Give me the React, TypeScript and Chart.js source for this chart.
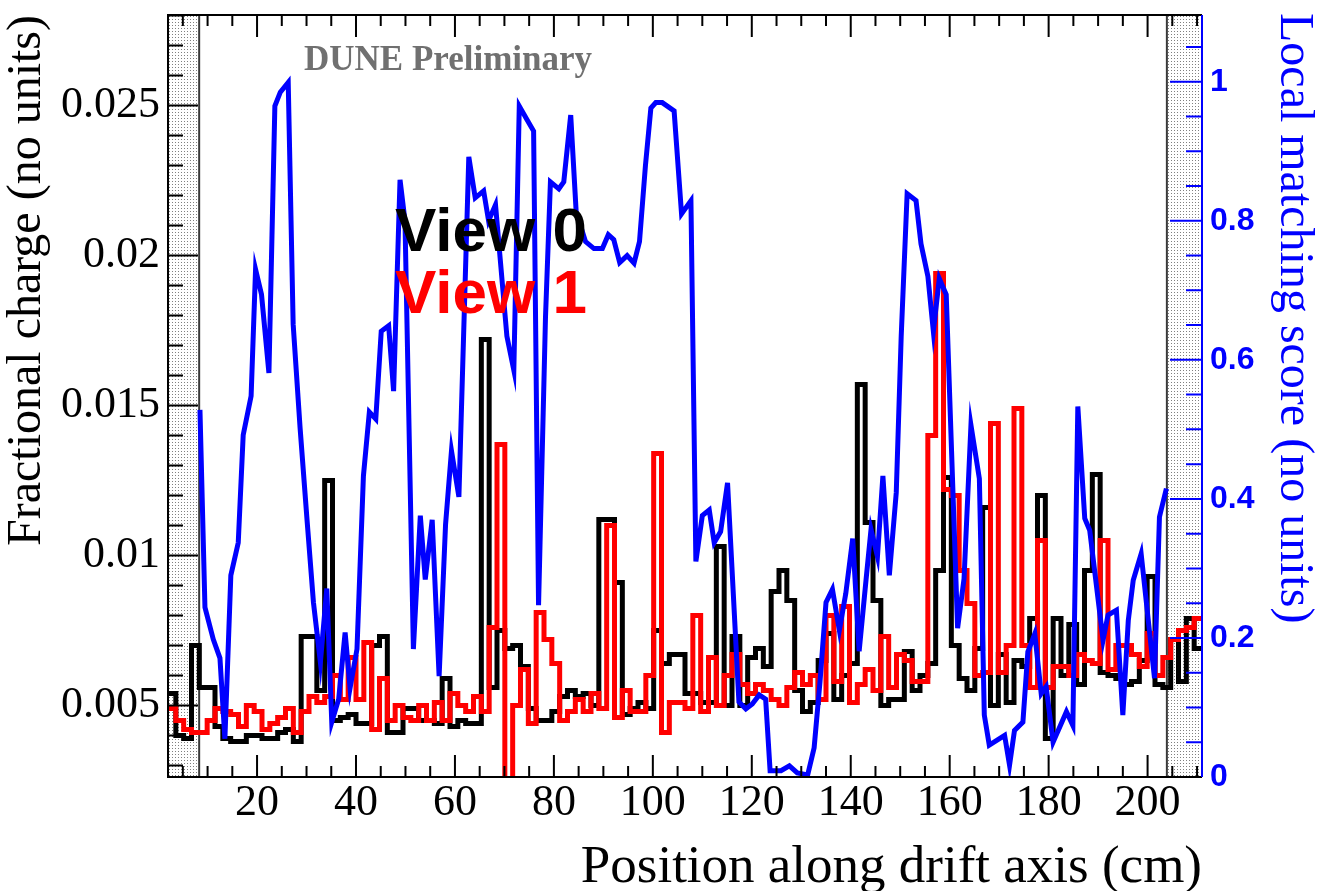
import React, { useEffect, useRef } from "react";
import { Chart, registerables } from "chart.js";

Chart.register(...registerables);

// ---- axis ranges (data units) ----
const X_MIN = 2;
const X_MAX = 211;
const CHARGE_MIN = 0.00262;
const CHARGE_MAX = 0.02802;
const SCORE_MIN = 0;
const SCORE_MAX = 1.096;

// histogram binning range
const HIST_LOW = 2;
const HIST_HIGH = 211;

// shaded (excluded) regions
const MASK_LEFT_END = 8.3;
const MASK_RIGHT_START = 203.9;

// ---- tick labels ----
const xTickValues = [20, 40, 60, 80, 100, 120, 140, 160, 180, 200];
const chargeTickValues = [0.005, 0.01, 0.015, 0.02, 0.025];
const chargeTickLabels = ["0.005", "0.01", "0.015", "0.02", "0.025"];
const scoreTickValues = [0, 0.2, 0.4, 0.6, 0.8, 1];
const scoreTickLabels = ["0", "0.2", "0.4", "0.6", "0.8", "1"];

// ---- View 0 fractional charge per bin ----
const view0Charge = [
  0.0054, 0.0040, 0.0039, 0.0070, 0.0056, 0.0056, 0.0043, 0.0039, 0.0038, 0.0038,
  0.0040, 0.0040, 0.0039, 0.0039, 0.0041, 0.0042, 0.0038, 0.0073, 0.0073, 0.0055,
  0.0125, 0.0045, 0.0046, 0.0047, 0.0044, 0.0044, 0.0070, 0.0073, 0.0041, 0.0041,
  0.0049, 0.0049, 0.0045, 0.0045, 0.0044, 0.0059, 0.0043, 0.0045, 0.0044, 0.0044,
  0.0172, 0.0056, 0.0075, 0.0069, 0.0070, 0.0063, 0.0049, 0.0045, 0.0045, 0.0048,
  0.0053, 0.0055, 0.0053, 0.0054, 0.0050, 0.0112, 0.0112, 0.0091, 0.0047, 0.0049,
  0.0051, 0.0049, 0.0075, 0.0064, 0.0067, 0.0067, 0.0054, 0.0054, 0.0051, 0.0051,
  0.0103, 0.0050, 0.0073, 0.0050, 0.0066, 0.0069, 0.0063, 0.0088, 0.0095, 0.0085,
  0.0055, 0.0048, 0.0051, 0.0065, 0.0074, 0.0052, 0.0060, 0.0064, 0.0157, 0.0111,
  0.0085, 0.0050, 0.0052, 0.0052, 0.0068, 0.0055, 0.0060, 0.0064, 0.0095, 0.0126,
  0.0070, 0.0059, 0.0055, 0.0069, 0.0116, 0.0050, 0.0067, 0.0051, 0.0065, 0.0063,
  0.0079, 0.0120, 0.0039, 0.0079, 0.0060, 0.0077, 0.0057, 0.0095, 0.0127, 0.0061,
  0.0060, 0.0059, 0.0057, 0.0058, 0.0065, 0.0093, 0.0057, 0.0056, 0.0072, 0.0058,
  0.0079, 0.0069,
];

// ---- View 1 fractional charge per bin ----
const view1Charge = [
  0.0049, 0.0045, 0.0042, 0.0041, 0.0041, 0.0045, 0.0049, 0.0048, 0.0047, 0.0043,
  0.0050, 0.0048, 0.0042, 0.0044, 0.0046, 0.0049, 0.0041, 0.0048, 0.0053, 0.0051,
  0.0053, 0.0060, 0.0052, 0.0066, 0.0052, 0.0071, 0.0042, 0.0059, 0.0045, 0.0050,
  0.0046, 0.0045, 0.0050, 0.0045, 0.0051, 0.0045, 0.0054, 0.0050, 0.0048, 0.0053,
  0.0048, 0.0076, 0.0137, 0.0, 0.0050, 0.0062, 0.0044, 0.0081, 0.0072, 0.0064,
  0.0045, 0.0048, 0.0052, 0.0048, 0.0054, 0.0049, 0.0110, 0.0046, 0.0055, 0.0048,
  0.0048, 0.0060, 0.0134, 0.0041, 0.0051, 0.0051, 0.0049, 0.0080, 0.0048, 0.0066,
  0.0050, 0.0060, 0.0067, 0.0057, 0.0054, 0.0057, 0.0055, 0.0052, 0.0050, 0.0056,
  0.0061, 0.0057, 0.0060, 0.0052, 0.0080, 0.0058, 0.0083, 0.0051, 0.0057, 0.0062,
  0.0055, 0.0073, 0.0056, 0.0067, 0.0065, 0.0058, 0.0058, 0.0140, 0.0194, 0.0122,
  0.0120, 0.0095, 0.0084, 0.0060, 0.0061, 0.0144, 0.0061, 0.0070, 0.0149, 0.0070,
  0.0056, 0.0105, 0.0056, 0.0063, 0.0063, 0.0060, 0.0067, 0.0065, 0.0064, 0.0105,
  0.0062, 0.0070, 0.0070, 0.0067, 0.0063, 0.0074, 0.0060, 0.0066, 0.0072, 0.0075,
  0.0076, 0.0079,
];

// ---- local matching score (position in cm, score) ----
const scorePositions = [
  8.46, 9.47, 11.15, 12.5, 13.5, 14.7, 16.2, 17.2, 18.8, 19.7,
  20.9, 22.4, 23.6, 24.7, 26.3, 27.3, 28.7, 30.1, 31.4, 32.8,
  34.1, 35.1, 36.5, 37.8, 38.8, 40.2, 41.5, 42.7, 44.0, 45.1,
  46.6, 47.6, 48.9, 49.9, 51.6, 53.0, 54.0, 55.4, 56.8, 58.1,
  59.3, 60.8, 62.8, 64.1, 65.8, 66.8, 68.2, 70.5, 71.9, 73.0,
  74.6, 75.9, 76.9, 78.3, 79.3, 81.0, 82.0, 83.4, 84.5, 86.4,
  88.1, 89.8, 91.0, 92.1, 93.3, 94.8, 96.2, 97.3, 98.5, 99.6,
  100.6, 101.9, 104.3, 105.8, 107.7, 108.7, 110.0, 111.4, 112.4, 113.7,
  115.1, 117.4, 118.8, 120.1, 121.5, 122.8, 123.7, 125.9, 127.6, 129.2,
  131.3, 132.6, 133.8, 135.0, 136.3, 137.7, 139.0, 140.4, 141.7, 143.1,
  144.1, 145.4, 146.5, 147.8, 149.2, 150.2, 151.4, 153.2, 154.2, 155.6,
  156.7, 157.9, 159.3, 161.6, 162.9, 164.3, 166.0, 167.0, 168.0, 171.1,
  172.1, 173.1, 174.8, 175.8, 177.2, 178.5, 179.5, 180.9, 183.6, 184.9,
  185.9, 187.3, 188.3, 191.0, 192.0, 193.7, 195.0, 196.1, 197.1, 198.7,
  201.4, 202.4, 203.8,
];
const scoreValues = [
  0.528, 0.244, 0.198, 0.171, 0.055, 0.290, 0.337, 0.492, 0.548, 0.730,
  0.694, 0.581, 0.965, 0.985, 0.999, 0.651, 0.502, 0.370, 0.251, 0.165,
  0.271, 0.079, 0.112, 0.208, 0.128, 0.184, 0.433, 0.525, 0.515, 0.641,
  0.649, 0.555, 0.859, 0.800, 0.184, 0.376, 0.284, 0.370, 0.145, 0.363,
  0.469, 0.403, 0.892, 0.833, 0.843, 0.800, 0.823, 0.634, 0.585, 0.965,
  0.945, 0.929, 0.247, 0.661, 0.856, 0.846, 0.856, 0.952, 0.813, 0.770,
  0.760, 0.760, 0.780, 0.773, 0.740, 0.750, 0.739, 0.770, 0.879, 0.962,
  0.970, 0.970, 0.958, 0.810, 0.829, 0.310, 0.376, 0.384, 0.337, 0.353,
  0.423, 0.108, 0.098, 0.105, 0.118, 0.112, 0.009, 0.009, 0.016, 0.006,
  0.003, 0.042, 0.138, 0.251, 0.270, 0.211, 0.264, 0.343, 0.181, 0.284,
  0.356, 0.317, 0.433, 0.290, 0.409, 0.634, 0.839, 0.829, 0.767, 0.720,
  0.641, 0.717, 0.694, 0.214, 0.285, 0.506, 0.429, 0.089, 0.046, 0.060,
  0.017, 0.067, 0.079, 0.180, 0.206, 0.120, 0.130, 0.050, 0.094, 0.074,
  0.533, 0.372, 0.355, 0.197, 0.233, 0.240, 0.089, 0.225, 0.283, 0.321,
  0.142, 0.374, 0.415,
];

function histogramPoints(values: number[]) {
  const n = values.length;
  const w = (HIST_HIGH - HIST_LOW) / n;
  const pts = values.map((v, i) => ({ x: HIST_LOW + i * w, y: v }));
  pts.push({ x: HIST_HIGH, y: values[n - 1] });
  return pts;
}

function labelFor(values: number[], labels: string[], v: number) {
  for (let i = 0; i < values.length; i++) {
    if (Math.abs(values[i] - v) < 1e-9) return labels[i];
  }
  return "";
}

function noPadding(s: any) {
  s.paddingTop = 0;
  s.paddingBottom = 0;
  s.paddingLeft = 0;
  s.paddingRight = 0;
}

const decorPlugin = {
  id: "rootDecor",
  beforeDatasetsDraw(chart: any) {
    const { ctx, chartArea: a, scales } = chart;
    const xs = scales.x;
    ctx.save();
    const pc = document.createElement("canvas");
    pc.width = 3;
    pc.height = 3;
    const pctx = pc.getContext("2d") as CanvasRenderingContext2D;
    pctx.fillStyle = "#ffffff";
    pctx.fillRect(0, 0, 3, 3);
    pctx.fillStyle = "#808080";
    pctx.fillRect(1, 1, 1, 1);
    const pattern = ctx.createPattern(pc, "repeat");
    const xl = xs.getPixelForValue(MASK_LEFT_END);
    const xr = xs.getPixelForValue(MASK_RIGHT_START);
    ctx.fillStyle = pattern;
    ctx.fillRect(a.left, a.top, xl - a.left, a.bottom - a.top);
    ctx.fillRect(xr, a.top, a.right - xr, a.bottom - a.top);
    ctx.strokeStyle = "#3a3a3a";
    ctx.lineWidth = 2;
    ctx.beginPath();
    ctx.moveTo(xl, a.top);
    ctx.lineTo(xl, a.bottom);
    ctx.moveTo(xr, a.top);
    ctx.lineTo(xr, a.bottom);
    ctx.stroke();
    ctx.restore();
  },
  afterDatasetsDraw(chart: any) {
    const { ctx, chartArea: a, scales } = chart;
    const xs = scales.x;
    const ys = scales.y;
    const ys1 = scales.y1;
    ctx.save();
    ctx.lineWidth = 2;
    // x ticks, bottom and top
    ctx.strokeStyle = "#000000";
    ctx.beginPath();
    for (let k = Math.ceil(X_MIN / 5); k <= Math.floor(X_MAX / 5); k++) {
      const v = k * 5;
      const px = xs.getPixelForValue(v);
      const len = k % 4 === 0 ? 22 : 11;
      ctx.moveTo(px, a.bottom);
      ctx.lineTo(px, a.bottom - len);
      ctx.moveTo(px, a.top);
      ctx.lineTo(px, a.top + len);
    }
    // left y ticks
    for (let k = Math.ceil(CHARGE_MIN / 0.001); k <= Math.floor(CHARGE_MAX / 0.001); k++) {
      const v = k * 0.001;
      const py = ys.getPixelForValue(v);
      const len = k % 5 === 0 ? 30 : 15;
      ctx.moveTo(a.left, py);
      ctx.lineTo(a.left + len, py);
    }
    ctx.stroke();
    // right (score) ticks
    ctx.strokeStyle = "#0000ff";
    ctx.beginPath();
    for (let k = 0; k <= Math.floor(SCORE_MAX / 0.05 + 1e-9); k++) {
      const v = k * 0.05;
      const py = ys1.getPixelForValue(v);
      const len = k % 4 === 0 ? 32 : 16;
      ctx.moveTo(a.right, py);
      ctx.lineTo(a.right - len, py);
    }
    ctx.stroke();
    // frame
    ctx.strokeStyle = "#000000";
    ctx.beginPath();
    ctx.moveTo(a.right, a.top);
    ctx.lineTo(a.left, a.top);
    ctx.lineTo(a.left, a.bottom);
    ctx.lineTo(a.right, a.bottom);
    ctx.stroke();
    ctx.strokeStyle = "#0000ff";
    ctx.beginPath();
    ctx.moveTo(a.right, a.top);
    ctx.lineTo(a.right, a.bottom);
    ctx.stroke();

    // texts
    ctx.textBaseline = "alphabetic";
    ctx.textAlign = "left";
    ctx.fillStyle = "#707070";
    ctx.font = 'bold 35px "Liberation Serif"';
    ctx.fillText("DUNE Preliminary", 304, 70);

    ctx.font = 'bold 62px "Liberation Sans"';
    ctx.fillStyle = "#000000";
    ctx.fillText("View 0", 395, 251);
    ctx.fillStyle = "#ff0000";
    ctx.fillText("View 1", 395, 313);

    // axis titles
    ctx.fillStyle = "#000000";
    ctx.font = '53px "Liberation Serif"';
    ctx.textAlign = "right";
    ctx.fillText("Position along drift axis (cm)", a.right, 882);

    ctx.font = '48px "Liberation Serif"';
    ctx.save();
    ctx.translate(40, a.top);
    ctx.rotate(-Math.PI / 2);
    ctx.textAlign = "right";
    ctx.fillText("Fractional charge (no units)", 0, 0);
    ctx.restore();

    ctx.save();
    ctx.fillStyle = "#0000ff";
    ctx.translate(1281, 13);
    ctx.rotate(Math.PI / 2);
    ctx.textAlign = "left";
    ctx.fillText("Local matching score (no units)", 0, 0);
    ctx.restore();

    ctx.restore();
  },
};

export default function App() {
  const canvasRef = useRef<HTMLCanvasElement | null>(null);

  useEffect(() => {
    const canvas = canvasRef.current;
    if (!canvas) return;
    const chart = new Chart(canvas, {
      type: "line",
      data: {
        datasets: [
          {
            label: "Local matching score",
            data: scorePositions.map((x, i) => ({ x, y: scoreValues[i] })),
            yAxisID: "y1",
            borderColor: "#0000ff",
            borderWidth: 5,
            pointRadius: 0,
            tension: 0,
            fill: false,
          },
          {
            label: "View 1",
            data: histogramPoints(view1Charge),
            yAxisID: "y",
            borderColor: "#ff0000",
            borderWidth: 5,
            pointRadius: 0,
            stepped: true,
            fill: false,
          },
          {
            label: "View 0",
            data: histogramPoints(view0Charge),
            yAxisID: "y",
            borderColor: "#000000",
            borderWidth: 5,
            pointRadius: 0,
            stepped: true,
            fill: false,
          },
        ],
      } as any,
      options: {
        responsive: false,
        maintainAspectRatio: false,
        animation: false,
        devicePixelRatio: 1,
        events: [],
        layout: { padding: { top: 15, left: 0, right: 0, bottom: 0 } },
        plugins: {
          legend: { display: false },
          tooltip: { enabled: false },
          title: { display: false },
        },
        scales: {
          x: {
            type: "linear",
            min: X_MIN,
            max: X_MAX,
            grid: { display: false, drawTicks: false },
            border: { display: false },
            afterBuildTicks: (s: any) => {
              s.ticks = xTickValues.map((v) => ({ value: v }));
            },
            afterFit: (s: any) => {
              s.height = 114;
              noPadding(s);
            },
            ticks: {
              autoSkip: false,
              maxRotation: 0,
              padding: 0,
              color: "#000000",
              font: { family: "Liberation Serif", size: 44 },
              callback: (v: any) => String(v),
            },
          },
          y: {
            type: "linear",
            position: "left",
            min: CHARGE_MIN,
            max: CHARGE_MAX,
            grid: { display: false, drawTicks: false },
            border: { display: false },
            afterBuildTicks: (s: any) => {
              s.ticks = chargeTickValues.map((v) => ({ value: v }));
            },
            afterFit: (s: any) => {
              s.width = 168;
              noPadding(s);
            },
            ticks: {
              autoSkip: false,
              padding: 8,
              color: "#000000",
              font: { family: "Liberation Serif", size: 44 },
              callback: (v: any) => labelFor(chargeTickValues, chargeTickLabels, v),
            },
          },
          y1: {
            type: "linear",
            position: "right",
            min: SCORE_MIN,
            max: SCORE_MAX,
            grid: { display: false, drawTicks: false },
            border: { display: false },
            afterBuildTicks: (s: any) => {
              s.ticks = scoreTickValues.map((v) => ({ value: v }));
            },
            afterFit: (s: any) => {
              s.width = 118;
              noPadding(s);
            },
            ticks: {
              autoSkip: false,
              padding: 8,
              color: "#0000ff",
              font: { family: "Liberation Sans", size: 32, weight: "bold" },
              callback: (v: any) => labelFor(scoreTickValues, scoreTickLabels, v),
            },
          },
        },
      } as any,
      plugins: [decorPlugin],
    });
    return () => {
      chart.destroy();
    };
  }, []);

  return (
    <div
      style={{
        position: "absolute",
        left: 0,
        top: 0,
        width: 1320,
        height: 891,
        background: "#ffffff",
      }}
    >
      <canvas
        ref={canvasRef}
        width={1320}
        height={891}
        style={{ display: "block", width: 1320, height: 891 }}
      />
    </div>
  );
}
